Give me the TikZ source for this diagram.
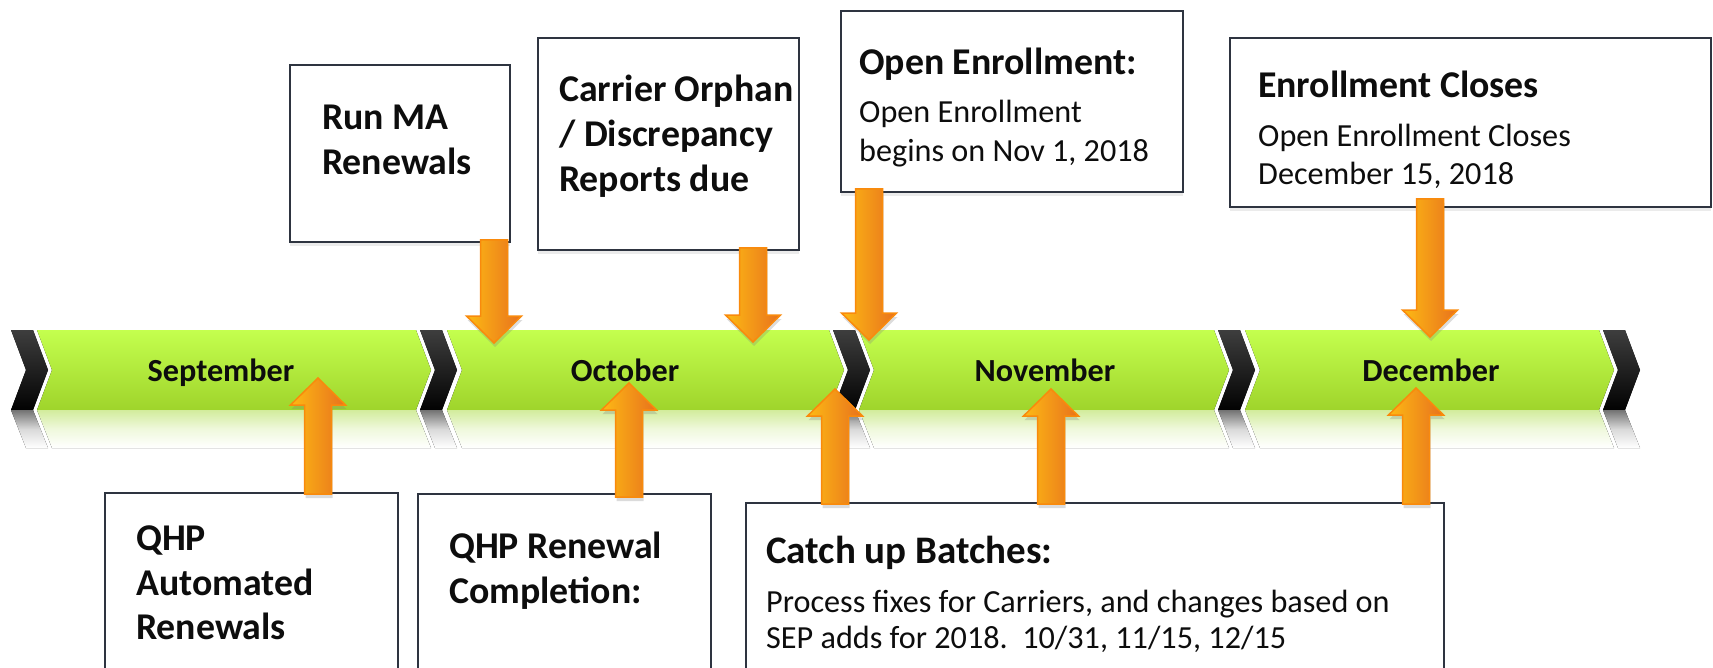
\documentclass[tikz,border=0pt]{standalone}
\usepackage{fontspec}
\setmainfont{Carlito}
\usetikzlibrary{calc,shadows}

\definecolor{limetop}{HTML}{C4FF4E}
\definecolor{limebot}{HTML}{9FD42B}
\definecolor{limeglow}{HTML}{D2EC9C}
\definecolor{chevtop}{HTML}{3E3E3E}
\definecolor{chevbot}{HTML}{020202}
\definecolor{boxline}{HTML}{2E3440}
\definecolor{arrowline}{HTML}{F98A0C}
\definecolor{arrowleft}{HTML}{FDBA14}
\definecolor{arrowright}{HTML}{E8711D}
\definecolor{ink}{HTML}{0D0D0D}

% block arrow from a stem start (#1) to a tip (#2)
\newcommand\orangearrow[2]{%
  \path[blockarrow] let \p1=(#1), \p2=(#2), \p3=($(#2)!27pt!(#1)$) in
    (\x1-13.5pt,\y1) -- (\x1+13.5pt,\y1) -- (\x1+13.5pt,\y3) -- (\x1+27.5pt,\y3)
    -- (\x2,\y2) -- (\x1-27.5pt,\y3) -- (\x1-13.5pt,\y3) -- cycle;}

% timeline pieces: green month segment [#1,#2] and black chevron starting at #1
\newcommand\monthseg[2]{%
  \fill[bandseg] (#1,330) -- (#2,330) -- (#2+15,370) -- (#2,410) -- (#1,410) -- (#1+15,370) -- cycle;
  \fill[top color=limeglow, bottom color=white, middle color=limeglow!35]
    (#1,410) -- (#2,410) -- (#2+15,448) -- (#1+15,448) -- cycle;}
\newcommand\chevronat[1]{%
  \fill[top color=chevtop, bottom color=chevbot]
    (#1,330) -- (#1+22,330) -- (#1+37,370) -- (#1+22,410) -- (#1,410) -- (#1+15,370) -- cycle;
  \fill[top color=black!55, bottom color=white, middle color=black!15]
    (#1,410) -- (#1+22,410) -- (#1+37,448) -- (#1+15,448) -- cycle;}

\begin{document}
\begin{tikzpicture}[x=1pt,y=-1pt,
  bandseg/.style={top color=limetop, bottom color=limebot},
  infobox/.style={rectangle, draw=boxline, line width=1.8pt, fill=white,
    inner sep=0pt, anchor=north west,
    drop shadow={opacity=0.16, shadow xshift=0pt, shadow yshift=-4pt}},
  headtext/.style={anchor=base west, inner sep=0pt, text=ink,
    font=\fontsize{37.8}{45}\selectfont\bfseries},
  bodytext/.style={anchor=base west, inner sep=0pt, text=ink,
    font=\fontsize{32.2}{38}\selectfont},
  monthtext/.style={anchor=base, inner sep=0pt, text=ink,
    font=\fontsize{32.2}{38}\selectfont\bfseries},
  blockarrow/.style={draw=arrowline, line width=1.5pt, line join=miter,
    left color=arrowleft, right color=arrowright,
    drop shadow={opacity=0.28, shadow xshift=1pt, shadow yshift=-4pt}}]

\useasboundingbox (0,0) rectangle (1713,668);
\clip (0,0) rectangle (1713,668);

% timeline band
\monthseg{37}{416}
\monthseg{447}{829}
\monthseg{859}{1214}
\monthseg{1245}{1599}
\chevronat{11}
\chevronat{420}
\chevronat{833}
\chevronat{1218}
\chevronat{1603}

\node[monthtext] (sep) at (221,381) {September};
\node[monthtext] (oct) at (625,381) {October};
\node[monthtext] (nov) at (1045,381) {November};
\node[monthtext] (dec) at (1431,381) {December};

% milestone boxes above the band
\node[infobox, minimum width=220pt, minimum height=177pt] (runma) at (289,64) {};
\node[headtext] (runmaA) at (322,130) {Run MA};
\node[headtext] (runmaB) at (322,175) {Renewals};

\node[infobox, minimum width=261pt, minimum height=212pt] (carrier) at (537,37) {};
\node[headtext] (carrierA) at (559,102) {Carrier Orphan};
\node[headtext] (carrierB) at (559,147) {/ Discrepancy};
\node[headtext] (carrierC) at (559,192) {Reports due};

\node[infobox, minimum width=342pt, minimum height=181pt] (openenr) at (840,10) {};
\node[headtext] (openenrA) at (859,75) {Open Enrollment:};
\node[bodytext] (openenrB) at (859,123) {Open Enrollment};
\node[bodytext] (openenrC) at (859,162) {begins on Nov 1, 2018};

\node[infobox, minimum width=481pt, minimum height=169pt] (closes) at (1229,37) {};
\node[headtext] (closesA) at (1258,98) {Enrollment Closes};
\node[bodytext] (closesB) at (1258,147) {Open Enrollment Closes};
\node[bodytext] (closesC) at (1258,185) {December 15, 2018};

% milestone boxes below the band
\node[infobox, minimum width=293pt, minimum height=220pt] (qhpauto) at (104,492) {};
\node[headtext] (qhpautoA) at (136,550) {QHP};
\node[headtext] (qhpautoB) at (136,595) {Automated};
\node[headtext] (qhpautoC) at (136,639) {Renewals};

\node[infobox, minimum width=293pt, minimum height=220pt] (qhpren) at (417,493) {};
\node[headtext] (qhprenA) at (449,558) {QHP Renewal};
\node[headtext] (qhprenB) at (449,603) {Completion:};

\node[infobox, minimum width=698pt, minimum height=220pt] (catchup) at (745,502) {};
\node[headtext, font=\fontsize{39}{45}\selectfont\bfseries] (catchupA) at (766,563) {Catch up Batches:};
\node[bodytext] (catchupB) at (766,612) {Process fixes for Carriers, and changes based on};
\node[bodytext] (catchupC) at (766,648) {SEP adds for 2018.\ \ 10/31, 11/15, 12/15};

% arrow tips on the band
\coordinate (tRun) at (494,343);
\coordinate (tCar) at (753,342);
\coordinate (tOE) at (869,340);
\coordinate (tDec) at (1430,337);
\coordinate (tSep) at (318,378);
\coordinate (tOct) at (629,383);
\coordinate (tNovA) at (835,389);
\coordinate (tNovB) at (1051,389);
\coordinate (tDecB) at (1416,388);

% stems start just inside the box borders
\coordinate (sRun) at ($(runma.south -| tRun)+(0,-3)$);
\coordinate (sCar) at ($(carrier.south -| tCar)+(0,-3)$);
\coordinate (sOE) at ($(openenr.south -| tOE)+(0,-4)$);
\coordinate (sDec) at ($(closes.south -| tDec)+(0,-9)$);
\coordinate (sSep) at ($(qhpauto.north -| tSep)+(0,2)$);
\coordinate (sOct) at ($(qhpren.north -| tOct)+(0,4)$);
\coordinate (sNovA) at ($(catchup.north -| tNovA)+(0,2)$);
\coordinate (sNovB) at ($(catchup.north -| tNovB)+(0,2)$);
\coordinate (sDecB) at ($(catchup.north -| tDecB)+(0,2)$);

\orangearrow{sRun}{tRun}
\orangearrow{sCar}{tCar}
\orangearrow{sOE}{tOE}
\orangearrow{sDec}{tDec}
\orangearrow{sSep}{tSep}
\orangearrow{sOct}{tOct}
\orangearrow{sNovA}{tNovA}
\orangearrow{sNovB}{tNovB}
\orangearrow{sDecB}{tDecB}

\end{tikzpicture}
\end{document}
